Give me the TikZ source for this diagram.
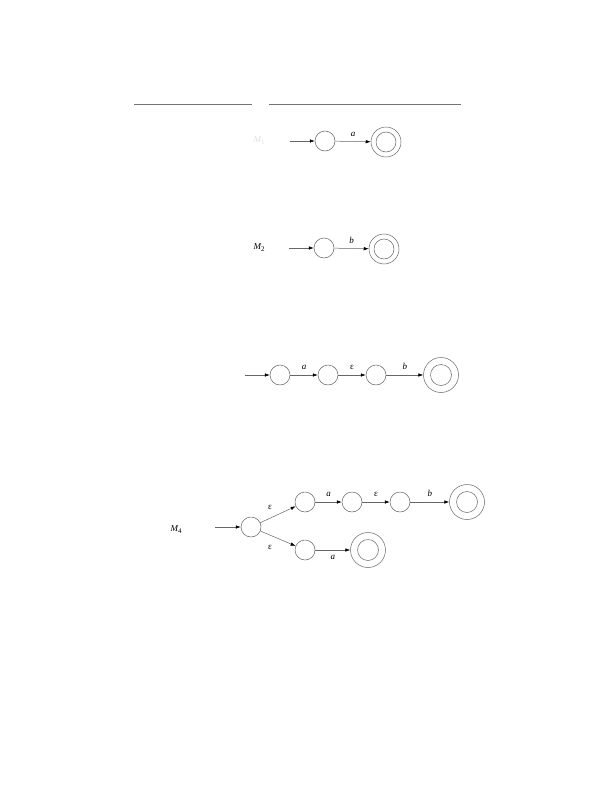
\documentclass[tikz,border=0pt]{standalone}
\usepackage{fontspec}
\setmainfont{Liberation Serif}
\usetikzlibrary{arrows.meta}
\newcommand{\mname}[1]{{\itshape M}\raisebox{-2pt}{\fontsize{7}{8}\selectfont #1}}
\begin{document}
\begin{tikzpicture}[x=1pt,y=-1pt,
  st/.style={circle,draw=black!60,line width=0.5pt,minimum size=20pt,inner sep=0pt},
  acc/.style={circle,draw=black!60,line width=0.5pt,minimum size=30pt,inner sep=0pt,
    append after command={\pgfextra{\let\accname\tikzlastnode}
      node[circle,draw=black!60,line width=0.5pt,minimum size=20pt,inner sep=0pt] at (\accname.center) {}}},
  bigacc/.style={circle,draw=black!60,line width=0.5pt,minimum size=35pt,inner sep=0pt,
    append after command={\pgfextra{\let\accname\tikzlastnode}
      node[circle,draw=black!60,line width=0.5pt,minimum size=21pt,inner sep=0pt] at (\accname.center) {}}},
  tr/.style={draw=black!60,line width=0.5pt,-{Latex[length=5pt,width=3.5pt,black]}},
  lbl/.style={font=\fontsize{9}{10}\selectfont\itshape,inner sep=0pt},
  elbl/.style={font=\fontsize{9}{10}\selectfont,inner sep=0pt},
  mlbl/.style={font=\fontsize{9}{10}\selectfont,inner sep=0pt}]
\useasboundingbox (0,0) rectangle (612,792);
% top rules
\coordinate (r1a) at (134,104); \coordinate (r1b) at (252,104);
\coordinate (r2a) at (269,104); \coordinate (r2b) at (461,104);
\draw[black!55,line width=0.6pt] (r1a) -- (r1b);
\draw[black!55,line width=0.6pt] (r2a) -- (r2b);
% M1
\node[mlbl,text=black!12] (m1) at (259,141) {\mname{1}};
\coordinate (s1) at (290,141);
\node[st] (a1) at (325,141) {};
\node[acc] (a2) at (386,142) {};
\draw[tr] (s1) -- (a1);
\draw[tr] (a1) -- node[lbl,above=5pt] {a} (a2);
% M2
\node[mlbl] (m2) at (259,248) {\mname{2}};
\coordinate (s2) at (289,248);
\node[st] (b1) at (324,248) {};
\node[acc] (b2) at (384,249) {};
\draw[tr] (s2) -- (b1);
\draw[tr] (b1) -- node[lbl,above=5pt] {b} (b2);
% M3
\coordinate (s3) at (245,375);
\node[st] (c1) at (280,375) {};
\node[st] (c2) at (328,375) {};
\node[st] (c3) at (376,375) {};
\node[bigacc] (c4) at (441,375) {};
\draw[tr] (s3) -- (c1);
\draw[tr] (c1) -- node[lbl,above=5pt] {a} (c2);
\draw[tr] (c2) -- node[elbl,above=5pt] {ε} (c3);
\draw[tr] (c3) -- node[lbl,above=5pt] {b} (c4);
% M4
\node[mlbl] (m4) at (176,530) {\mname{4}};
\coordinate (s4) at (215,527);
\node[st] (d0) at (251,527) {};
\node[st] (d1) at (305,502) {};
\node[st] (d2) at (352,502) {};
\node[st] (d3) at (400,502) {};
\node[bigacc] (d4) at (467,502) {};
\node[st] (e1) at (305,550) {};
\node[bigacc] (e2) at (368,550) {};
\draw[tr] (s4) -- (d0);
\draw[tr] (d0) -- (d1);
\node[elbl] (eps1) at (270,507) {ε};
\draw[tr] (d0) -- (e1);
\node[elbl] (eps2) at (270,547) {ε};
\draw[tr] (d1) -- node[lbl,above=5pt] {a} (d2);
\draw[tr] (d2) -- node[elbl,above=5pt] {ε} (d3);
\draw[tr] (d3) -- node[lbl,above=5pt] {b} (d4);
\draw[tr] (e1) -- node[lbl,below=5pt] {a} (e2);
\end{tikzpicture}
\end{document}
